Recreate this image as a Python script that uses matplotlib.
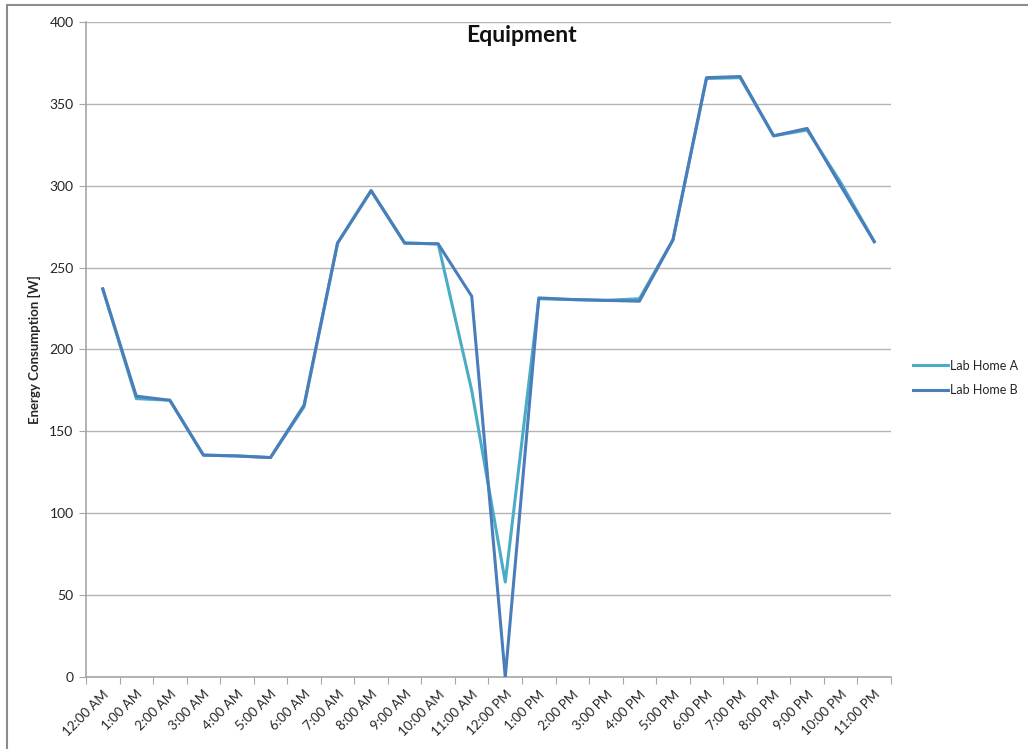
import matplotlib
matplotlib.use("Agg")
import matplotlib.pyplot as plt
from matplotlib.patches import Rectangle
import numpy as np

hours = ["12:00 AM", "1:00 AM", "2:00 AM", "3:00 AM", "4:00 AM", "5:00 AM",
         "6:00 AM", "7:00 AM", "8:00 AM", "9:00 AM", "10:00 AM", "11:00 AM",
         "12:00 PM", "1:00 PM", "2:00 PM", "3:00 PM", "4:00 PM", "5:00 PM",
         "6:00 PM", "7:00 PM", "8:00 PM", "9:00 PM", "10:00 PM", "11:00 PM"]
lab_home_a = [237, 170, 169, 135.5, 135, 134, 165, 265, 297, 265, 264.5, 175,
              58, 231, 230.5, 230, 231, 267, 365.5, 366, 330.5, 334, 302, 266]
lab_home_b = [237, 171.5, 169, 135.5, 135, 134, 166, 265, 297, 265, 264.5, 232.5,
              0, 231.5, 230.5, 230, 229.5, 267, 366, 366.7, 330.5, 335, 300, 265.8]

plt.rcParams['font.family'] = ['Lato', 'DejaVu Sans']

W, H = 1028, 749
fig = plt.figure(figsize=(W/100, H/100), dpi=100)
fig.patches.append(Rectangle((7/W, -1), 2, 2 - 5/H, transform=fig.transFigure,
                             fill=False, edgecolor='#8c8c8c', linewidth=1.5))
ax = fig.add_axes([86/W, 1 - 677/H, (891-86)/W, (677-22)/H])

x = np.arange(len(hours))
ax.plot(x, lab_home_a, color='#4BACC6', linewidth=2.2, label='Lab Home A', zorder=3)
ax.plot(x, lab_home_b, color='#4A7EBB', linewidth=2.2, label='Lab Home B', zorder=4)

ax.set_xlim(-0.5, len(hours) - 0.5)
ax.set_ylim(0, 400)
ax.set_yticks(np.arange(0, 401, 50))
ax.yaxis.grid(True, color='#b3b3b3', linewidth=1)
ax.set_axisbelow(True)
ax.set_xticks(np.arange(-0.5, len(hours), 1))
ax.set_xticklabels([])
ax.set_xticks(x, minor=True)
ax.set_xticklabels(hours, minor=True, rotation=45, ha='right', va='top',
                   rotation_mode='anchor', fontsize=9.5, color='#262626')
ax.tick_params(axis='x', which='minor', length=0, pad=8)
ax.tick_params(axis='x', which='major', length=5, color='#a6a6a6', direction='out')
ax.tick_params(axis='y', length=5, color='#a6a6a6', labelsize=10, labelcolor='#262626', pad=4)
for s in ['top', 'right']:
    ax.spines[s].set_visible(False)
for s in ['left', 'bottom']:
    ax.spines[s].set_color('#a6a6a6')
    ax.spines[s].set_linewidth(1.2)

ax.set_ylabel('Energy Consumption [W]', fontsize=9.5, fontweight='bold', color='#262626', labelpad=6)
fig.text(521/W, 1 - 35/H, 'Equipment', fontsize=16.5, fontweight='bold', ha='center', va='center', color='#111111')

fig.legend(loc='center left', bbox_to_anchor=(902/W, 1 - 378/H), frameon=False,
           fontsize=9, handlelength=2.8, handletextpad=0.15, labelspacing=1.0,
           labelcolor='#262626')

fig.savefig('out.png', dpi=100)
